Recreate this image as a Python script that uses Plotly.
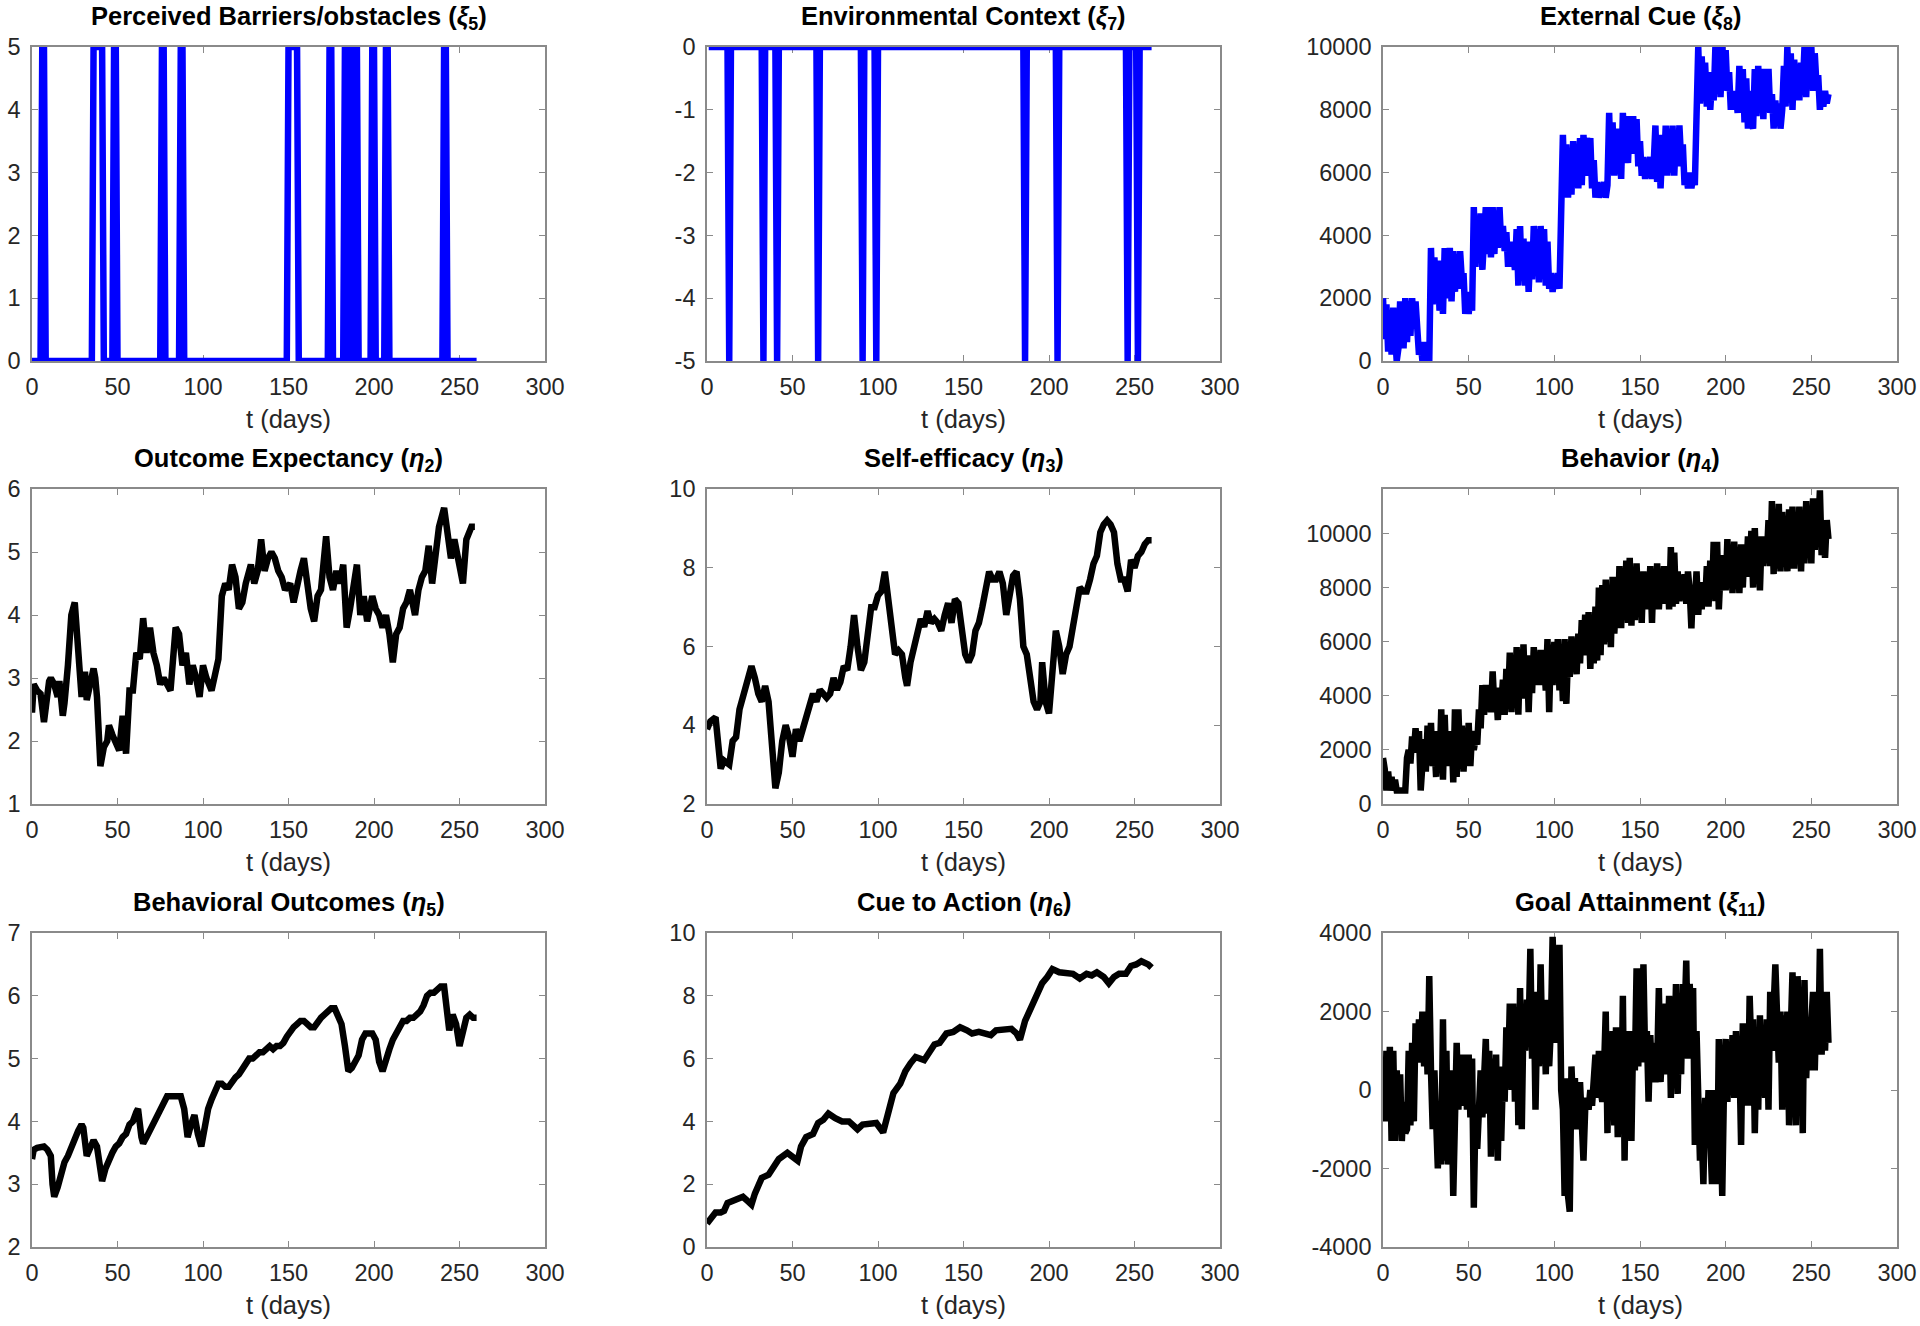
import plotly.graph_objects as go

W, H = 1920, 1326

# ---------------- data ----------------
days = list(range(261))

# Perceived Barriers/obstacles (xi5): days at level 5 (0 otherwise)
barrier_high_days = [6, 7, 36, 37, 38, 39, 40, 41, 48, 49, 76, 77, 87, 88,
                     150, 151, 152, 153, 154, 155, 174, 175,
                     183, 184, 186, 187, 189, 190, 199, 200, 207, 208, 241, 242]
# Environmental Context (xi7): days at level -5 (0 otherwise)
context_low_days = [13, 33, 41, 65, 91, 99, 186, 205, 246, 252]
context_days = list(range(1, 261))

# External Cue (xi8), daily
xi8 = [2000, 700, 1800, 300, 1600, 200, 1700, 1000, 0, 400,
       1900, 1500, 400, 2000, 600, 1900, 800, 2000, 1200, 1900,
       1100, 200, 600, 0, 600, 0, 100, 0,
       3600, 1800, 3300, 2200, 3200, 1600, 2600, 1500, 3600, 2000,
       2500, 3600, 1900, 3500, 2200, 3400, 2300, 3500, 2600, 2800,
       1500, 2200, 1500, 2100, 1600,
       4900, 3000, 4600, 3300, 4700, 2900, 3800, 4900, 3400, 4900,
       3300, 4900, 3400, 4800, 3600, 4900, 3700, 4300, 3500, 4100,
       3000, 3800, 3100, 3500, 2900, 4200, 2400, 4300, 2600, 3900,
       2400, 3800, 2200, 3500, 2600, 4300, 2700, 4200, 2500, 4300,
       3000, 4200, 2400, 3800, 2300, 2800, 2200, 2700, 2300, 2800, 2300,
       6000,
       7200, 5400, 6900, 5200, 6600, 5300, 7000, 5800, 6800, 5500,
       7100, 5600, 7200, 5900, 7100, 6300, 7100, 5500, 6400, 5200,
       5700, 5200, 5600, 5300, 5700, 5200, 5600,
       7900, 6000, 7600, 5900, 7400, 6100, 7000, 5800, 7900, 6500,
       7800, 6300, 7800, 6800, 7800, 6600, 7700, 6200, 7000, 5900,
       6500, 5800, 6400, 5900, 6500, 5800, 6300,
       7500, 5700, 7200, 5500, 6800, 6000, 7500, 5900, 7400, 6000,
       7500, 5900, 7300, 6200, 7500, 6400, 6900, 5600, 6000, 5500,
       6000, 5500, 5900, 5600,
       8800,
       10000, 8200, 9700, 8600, 9500, 8100, 9200, 8000, 8900, 8300,
       10000, 8700, 10000, 8400, 10000, 8800, 9900, 8600, 9200, 8000,
       8600, 8100, 8500, 7900, 9400, 8000, 9300, 7600, 9000, 7400,
       8600, 7600, 7400, 9300, 7800, 9400, 8000, 9300, 7700, 9300,
       8200, 9300, 7900, 8500, 7400, 8300, 7500, 8200, 7400, 8000,
       9400, 8100, 10000, 8400, 9800, 8000, 9600, 8600, 9200, 8300,
       9500, 8700, 10000, 8400, 10000, 8900, 10000, 8600, 9800, 8800,
       9100, 8000, 8600, 8100, 8600, 8200, 8500]

# Outcome Expectancy (eta2)
t_eta2 = [0, 1, 3, 5, 7, 8, 10, 11, 13, 15,
          16, 18, 19, 21, 23, 25, 26, 28, 29, 31,
          32, 34, 36, 37, 38, 40, 42, 44, 45, 47,
          49, 51, 53, 55, 57, 59, 61, 63, 65, 67,
          69, 71, 73, 75, 77, 79, 81, 84, 86, 88,
          90, 92, 94, 96, 98, 100, 102, 105, 107, 109,
          111, 113, 115, 117, 119, 121, 123, 125, 128, 130,
          132, 134, 136, 138, 140, 142, 144, 146, 148, 151,
          153, 155, 157, 159, 161, 163, 165, 167, 169, 172,
          174, 176, 178, 180, 182, 184, 186, 188, 190, 192,
          194, 196, 199, 201, 203, 205, 207, 209, 211, 213,
          215, 217, 219, 221, 224, 226, 228, 230, 232, 234,
          236, 238, 241, 243, 245, 247, 249, 252, 254, 257,
          259]
eta2 = [2.45, 2.9, 2.8, 2.75, 2.3, 2.6, 2.95, 3.0, 2.9, 2.7,
        2.95, 2.4, 2.6, 3.2, 4.0, 4.2, 3.8, 3.2, 2.7, 3.1,
        2.65, 2.9, 3.15, 3.0, 2.7, 1.6, 1.9, 2.0, 2.25, 2.1,
        2.0, 1.85, 2.4, 1.8, 2.8, 2.8, 3.4, 3.3, 3.95, 3.4,
        3.8, 3.4, 3.2, 2.9, 3.0, 2.9, 2.8, 3.8, 3.7, 3.2,
        3.4, 2.9, 3.2, 3.0, 2.7, 3.2, 3.0, 2.8, 3.1, 3.3,
        4.3, 4.5, 4.4, 4.8, 4.6, 4.1, 4.2, 4.5, 4.8, 4.5,
        4.7, 5.2, 4.7, 4.9, 5.0, 4.9, 4.7, 4.6, 4.4, 4.5,
        4.2, 4.5, 4.7, 4.9, 4.5, 4.1, 3.9, 4.3, 4.4, 5.25,
        4.6, 4.4, 4.7, 4.5, 4.8, 3.8, 4.1, 4.4, 4.8, 4.0,
        4.3, 3.9, 4.3, 4.1, 4.0, 3.8, 4.0, 3.7, 3.25, 3.7,
        3.8, 4.1, 4.2, 4.4, 4.0, 4.4, 4.6, 4.7, 5.1, 4.5,
        5.0, 5.4, 5.7, 5.3, 4.9, 5.2, 4.9, 4.5, 5.2, 5.4,
        5.4]

# Self-efficacy (eta3)
t_eta3 = [0, 2, 5, 7, 8, 10, 13, 15, 17, 19,
          22, 24, 26, 28, 30, 32, 34, 36, 38, 40,
          42, 44, 46, 48, 50, 52, 54, 56, 58, 60,
          62, 64, 66, 68, 70, 72, 74, 76, 78, 80,
          82, 84, 86, 88, 90, 92, 94, 96, 98, 100,
          102, 104, 106, 108, 110, 112, 114, 116, 117,
          119, 121, 123, 125, 127, 129, 131, 133, 135, 137,
          139, 141, 143, 145, 147, 149, 151, 153, 155, 157,
          159, 161, 163, 165, 167, 169, 171, 173, 175, 177,
          179, 181, 183, 185, 187, 189, 191, 193, 195, 196,
          198, 200, 202, 204, 206, 208, 210, 212, 214, 216,
          218, 220, 222, 224, 226, 228, 230, 232, 234, 236,
          238, 240, 242, 244, 246, 248, 250, 252, 254, 256,
          258, 260]
eta3 = [3.9, 4.1, 4.2, 3.3, 2.9, 3.1, 3.0, 3.6, 3.7, 4.4,
        4.9, 5.1, 5.5, 5.2, 4.8, 4.6, 5.0, 4.6, 3.7, 2.4,
        2.8, 3.6, 4.0, 3.7, 3.2, 3.9, 3.6, 3.9, 4.1, 4.5,
        4.8, 4.6, 4.9, 4.8, 4.7, 4.8, 5.2, 4.9, 5.1, 5.5,
        5.4, 6.0, 6.8, 6.0, 5.4, 5.6, 6.4, 7.0, 7.0, 7.3,
        7.4, 7.9, 7.2, 6.6, 5.8, 5.9, 5.8, 5.2, 5.0,
        5.6, 6.0, 6.3, 6.7, 6.5, 6.9, 6.6, 6.7, 6.6, 6.4,
        6.8, 7.1, 6.6, 7.2, 7.1, 6.3, 5.8, 5.6, 5.8, 6.4,
        6.6, 7.0, 7.4, 7.9, 7.7, 7.7, 7.9, 7.6, 6.8, 7.3,
        7.8, 7.9, 7.2, 6.0, 5.8, 5.2, 4.6, 4.4, 4.6, 5.6,
        4.6, 4.3, 5.3, 6.4, 6.0, 5.3, 5.8, 6.0, 6.5, 7.0,
        7.5, 7.4, 7.4, 7.7, 8.1, 8.3, 8.9, 9.1, 9.2, 9.1,
        8.9, 8.1, 7.7, 7.7, 7.4, 8.2, 8.0, 8.3, 8.4, 8.6,
        8.7, 8.7]

# Behavior (eta4), daily
eta4 = [1700, 1300, 500, 1200, 500, 1000, 500, 900, 500, 500,
        500, 500, 500, 500, 1700, 2000, 1500, 2500, 1900, 2800,
        2000, 2700, 500, 1200, 2400, 1200, 2900, 1600, 3000, 1400,
        2200, 1000, 2700, 1300, 3500, 900, 3300, 1400, 2600, 1500,
        2700, 800, 3500, 1000, 3500, 1600, 2900, 1200, 2500, 1600,
        3000, 1400, 2700, 2000, 2400, 2200, 3500, 2800, 4400, 3300,
        4400, 3600, 4000, 3400, 4900, 3600, 4300, 3100, 4200, 3600,
        4600, 3300, 5000, 3800, 5600, 3400, 5300, 3900, 5800, 3300,
        5700, 4400, 5900, 3900, 5500, 3400, 5200, 4100, 5800, 4600,
        5500, 4400, 5700, 4700, 5300, 4200, 6100, 3400, 5900, 4400,
        6000, 4600, 6100, 4200, 5500, 3800, 6100, 3700, 5500, 4700,
        6200, 5000, 6000, 4800, 6300, 5200, 6800, 5500, 7000, 5600,
        7100, 5000, 6600, 5200, 7300, 5300, 8000, 5500, 8100, 5900,
        8300, 6000, 7700, 5800, 8400, 6300, 7600, 6600, 8800, 6500,
        8700, 7100, 9000, 6700, 9100, 6600, 8500, 6800, 8900, 7100,
        8300, 6700, 8600, 7200, 8200, 7300, 8800, 6700, 8700, 7300,
        8900, 7200, 8300, 7600, 8800, 7400, 8600, 7200, 9500, 7300,
        9300, 7400, 8600, 7500, 8300, 7700, 8500, 7400, 8600, 7900,
        6500, 8100, 7500, 8600, 7000, 8200, 7200, 8000, 7400, 8800,
        7300, 9000, 7600, 9700, 7500, 9700, 7200, 8600, 7900, 9200,
        7900, 9800, 8300, 9300, 7800, 9700, 8100, 9300, 7800, 9600,
        8000, 9500, 8400, 9900, 8600, 10100, 8000, 10200, 8500, 9800,
        7900, 9900, 8800, 9700, 9100, 10500, 8800, 11200, 8500, 10700,
        8700, 11100, 8600, 10800, 9000, 10300, 8600, 10900, 8700, 11000,
        8700, 10700, 9000, 11000, 8600, 10800, 8900, 11200, 9300, 11000,
        8900, 11300, 9400, 11100, 10100, 11600, 9200, 10300, 9100, 10500,
        9800]

# Behavioral Outcomes (eta5)
t_eta5 = [0, 1, 3, 5, 7, 9, 11, 12, 13, 15,
          17, 19, 21, 23, 25, 27, 29, 30, 32, 34,
          36, 38, 40, 41, 43, 45, 47, 49, 51, 53,
          55, 57, 59, 61, 62, 64, 65, 67, 69, 71,
          73, 75, 77, 79, 81, 83, 85, 87, 89, 91,
          93, 95, 97, 99, 101, 103, 105, 107, 109, 111,
          113, 115, 117, 119, 121, 123, 125, 127, 129, 131,
          133, 135, 137, 139, 141, 143, 145, 147, 149, 151,
          153, 155, 157, 159, 161, 163, 165, 167, 169, 171,
          173, 175, 177, 179, 181, 183, 185, 187, 189, 191,
          193, 195, 197, 199, 201, 203, 205, 207, 209, 211,
          213, 215, 217, 219, 221, 223, 225, 227, 229, 231,
          233, 235, 237, 239, 241, 242, 243, 244, 246, 248,
          250, 252, 254, 256, 258, 260]
eta5 = [3.4, 3.55, 3.58, 3.6, 3.6, 3.55, 3.45, 3.0, 2.8, 2.95,
        3.2, 3.35, 3.45, 3.6, 3.75, 3.85, 3.95, 3.9, 3.45, 3.6,
        3.7, 3.6, 3.1, 3.05, 3.25, 3.4, 3.5, 3.6, 3.65, 3.75,
        3.8, 3.95, 4.0, 4.15, 4.2, 3.75, 3.65, 3.75, 3.85, 4.0,
        4.05, 4.2, 4.3, 4.4, 4.4, 4.4, 4.4, 4.4, 4.2, 3.75,
        3.95, 4.1, 3.8, 3.6, 3.9, 4.2, 4.35, 4.45, 4.6, 4.6,
        4.55, 4.55, 4.65, 4.7, 4.75, 4.85, 4.95, 5.0, 5.0, 5.05,
        5.1, 5.1, 5.15, 5.2, 5.15, 5.2, 5.2, 5.25, 5.35, 5.45,
        5.5, 5.55, 5.6, 5.6, 5.55, 5.5, 5.5, 5.6, 5.65, 5.7,
        5.75, 5.8, 5.8, 5.7, 5.55, 5.2, 4.8, 4.85, 4.95, 5.05,
        5.3, 5.4, 5.4, 5.4, 5.3, 4.95, 4.8, 5.0, 5.15, 5.3,
        5.4, 5.55, 5.6, 5.6, 5.65, 5.65, 5.7, 5.75, 5.85, 6.0,
        6.05, 6.05, 6.1, 6.15, 6.15, 5.9, 5.5, 5.45, 5.7, 5.55,
        5.2, 5.4, 5.65, 5.7, 5.65, 5.65]

# Cue to Action (eta6)
t_eta6 = [0, 2, 5, 8, 10, 12, 15, 18, 21, 24,
          26, 28, 30, 32, 36, 39, 42, 47, 50, 53,
          55, 58, 62, 65, 68, 71, 75, 79, 83, 88,
          91, 95, 99, 103, 106, 109, 113, 116, 119, 122,
          127, 130, 133, 136, 140, 144, 148, 152, 155, 159,
          162, 166, 169, 173, 178, 181, 183, 186, 190, 193,
          196, 199, 202, 206, 210, 214, 218, 222, 225, 228,
          232, 235, 238, 241, 245, 248, 251, 254, 258, 260]
eta6 = [0.75, 0.9, 1.1, 1.1, 1.15, 1.4, 1.45, 1.55, 1.6, 1.45,
        1.35, 1.7, 2.0, 2.2, 2.3, 2.6, 2.8, 3.0, 2.9, 2.75,
        3.2, 3.5, 3.6, 3.95, 4.05, 4.25, 4.1, 4.0, 4.0, 3.75,
        3.9, 3.95, 3.95, 3.65, 4.3, 4.9, 5.2, 5.6, 5.85, 6.05,
        5.95, 6.25, 6.45, 6.5, 6.8, 6.85, 7.0, 6.9, 6.8, 6.85,
        6.8, 6.75, 6.9, 6.9, 6.95, 6.8, 6.6, 7.2, 7.7, 7.95,
        8.4, 8.6, 8.85, 8.75, 8.7, 8.7, 8.55, 8.7, 8.65, 8.75,
        8.6, 8.4, 8.6, 8.7, 8.7, 8.95, 9.0, 9.1, 9.0, 8.9]

# Goal Attainment (xi11), daily
xi11 = [800, -800, 1000, -700, 1100, -1300, 1000, -1300, 500, -500,
        400, -1300, -300, -1100, -1000, 1000, -900, 1200, -800, 1700,
        900, 1800, 700, 2000, 600, 1900, 400, 2900, 500, -1000,
        500, -500, -2000, -600, -1900, 1800, -1800, 1000, -1900, 500,
        -300, -2700, -400, 1200, -500, 900, -400, 300, 900, -500,
        900, -700, 800, -3000, -500, -1500, -400, 500, -700, 300,
        1300, -600, 1000, -1700, 800, -1100, 900, -1800, 600, -1300,
        400, -300, 1600, 400, 2200, 0, 2200, -300, 2100, -900,
        2600, -1000, 1900, 1000, 2300, 1500, 3600, 800, 2500, -500,
        1800, 600, 3200, 1000, 2000, 400, 2300, 600, 1600, 3900,
        2600, 1200, 2700, 3700, 0, -500, -2700, 300, -2700, -3100,
        600, -500, 300, -1000, -200, 200, -800, -1800, -500, -200,
        -500, 0, -400, 300, 900, -200, 1000, 0, -300, 500,
        2000, -1100, 1300, -500, 1500, -900, 1600, -1200, 800, -900,
        2400, -1800, 1300, 0, 1500, -1300, 1400, 500, 3100, 600,
        3100, 700, 3200, 800, 1500, -300, 1400, 300, 1200, 200,
        600, 2600, 200, 1200, 400, 2200, 1000, 2400, -200, 1600,
        800, 2700, -100, 1900, 400, 2700, 1800, 3300, 800, 2700,
        1800, 2600, -1400, 1500, -1000, -1800, -1100, -2400, -200, -1300,
        0, -1000, -2400, 0, -1300, -2400, 1300, -1500, -2700, 0,
        1300, -300, 900, 200, 1400, -200, 1500, 100, 900, -1400,
        1700, 0, 1400, -400, 2400, 1000, 1800, -1100, 1000, -500,
        1900, 0, 1000, -200, 1800, -500, 2500, 1000, 2800, 3200,
        1900, 700, 2000, -500, 1900, 600, 2000, -900, 1500, 3000,
        1000, -900, 2900, 1000, 2000, -1100, 2800, 300, 1700, 500,
        1700, 2500, 500, 2200, 900, 3600, 900, 2300, 1000, 2500,
        1200]

x_ticks = [0, 50, 100, 150, 200, 250, 300]

# build the binary series from the day lists
xi5 = [5 if d in barrier_high_days else 0 for d in days]
xi7 = [-5 if d in context_low_days else 0 for d in context_days]

BLUE = "#0000ff"
BLACK = "#000000"

panels = [
    dict(title="Perceived Barriers/obstacles (<i>ξ</i><sub>5</sub>)", x=days, y=xi5, color=BLUE,
         yr=[0, 5], yt=[0, 1, 2, 3, 4, 5]),
    dict(title="Environmental Context (<i>ξ</i><sub>7</sub>)", x=context_days, y=xi7, color=BLUE,
         yr=[-5, 0], yt=[-5, -4, -3, -2, -1, 0]),
    dict(title="External Cue (<i>ξ</i><sub>8</sub>)", x=days[:len(xi8)], y=xi8, color=BLUE,
         yr=[0, 10000], yt=[0, 2000, 4000, 6000, 8000, 10000]),
    dict(title="Outcome Expectancy (<i>η</i><sub>2</sub>)", x=t_eta2, y=eta2, color=BLACK,
         yr=[1, 6], yt=[1, 2, 3, 4, 5, 6]),
    dict(title="Self-efficacy (<i>η</i><sub>3</sub>)", x=t_eta3, y=eta3, color=BLACK,
         yr=[2, 10], yt=[2, 4, 6, 8, 10]),
    dict(title="Behavior (<i>η</i><sub>4</sub>)", x=days[:len(eta4)], y=eta4, color=BLACK,
         yr=[0, 11650], yt=[0, 2000, 4000, 6000, 8000, 10000]),
    dict(title="Behavioral Outcomes (<i>η</i><sub>5</sub>)", x=t_eta5, y=eta5, color=BLACK,
         yr=[2, 7], yt=[2, 3, 4, 5, 6, 7]),
    dict(title="Cue to Action (<i>η</i><sub>6</sub>)", x=t_eta6, y=eta6, color=BLACK,
         yr=[0, 10], yt=[0, 2, 4, 6, 8, 10]),
    dict(title="Goal Attainment (<i>ξ</i><sub>11</sub>)", x=days[:len(xi11)], y=xi11, color=BLACK,
         yr=[-4000, 4000], yt=[-4000, -2000, 0, 2000, 4000]),
]

# ---------------- layout (pixel boxes of each axes) ----------------
COLS = [(32, 545), (707, 1220), (1383, 1897)]
ROWS = [(47, 361), (489, 804), (933, 1247)]

FONT = "Liberation Sans, Arial, Helvetica, sans-serif"
TXT = "#262626"
AXC = "#8a8a8a"
TICK_SIZE = 23.5
LABEL_SIZE = 25.5
TITLE_SIZE = 25.5
LW = 6.5

fig = go.Figure()
annotations = []
for i, p in enumerate(panels):
    r, c = divmod(i, 3)
    sfx = "" if i == 0 else str(i + 1)
    n = min(len(p["x"]), len(p["y"]))
    fig.add_trace(go.Scatter(
        x=p["x"][:n], y=p["y"][:n], mode="lines",
        line=dict(color=p["color"], width=LW),
        xaxis="x" + sfx, yaxis="y" + sfx,
        showlegend=False, hoverinfo="skip", cliponaxis=False))
    x0, x1 = COLS[c]
    y0, y1 = ROWS[r]
    common = dict(showline=True, linecolor=AXC, linewidth=1.6, mirror="allticks",
                  ticks="inside", ticklen=6, tickwidth=1.4, tickcolor=AXC,
                  showgrid=False, zeroline=False, layer="below traces",
                  automargin=False,
                  tickfont=dict(family=FONT, size=TICK_SIZE, color=TXT))
    fig.layout["xaxis" + sfx] = dict(
        domain=[x0 / W, x1 / W], anchor="y" + sfx, range=[0, 300],
        tickvals=x_ticks, ticktext=[str(v) for v in x_ticks],
        ticklabelstandoff=4, **common)
    fig.layout["yaxis" + sfx] = dict(
        domain=[1 - y1 / H, 1 - y0 / H], anchor="x" + sfx, range=p["yr"],
        tickvals=p["yt"], ticktext=[str(v) for v in p["yt"]],
        ticklabelstandoff=5, **common)
    xc = (x0 + x1) / 2 / W
    annotations.append(dict(
        text="<b>" + p["title"] + "</b>", x=xc, y=1 - (y0 - 29) / H,
        xref="paper", yref="paper", xanchor="center", yanchor="middle",
        showarrow=False, font=dict(family=FONT, size=TITLE_SIZE, color="#000000")))
    annotations.append(dict(
        text="t (days)", x=xc, y=1 - (y1 + 58) / H,
        xref="paper", yref="paper", xanchor="center", yanchor="middle",
        showarrow=False, font=dict(family=FONT, size=LABEL_SIZE, color=TXT)))

fig.update_layout(
    template="none",
    width=W, height=H, autosize=False,
    margin=dict(l=0, r=0, t=0, b=0, pad=0),
    paper_bgcolor="white", plot_bgcolor="white",
    annotations=annotations,
    font=dict(family=FONT, color=TXT),
)

fig.write_html("out.html", config={"displayModeBar": False},
               post_script="document.body.style.margin='0';document.body.style.overflow='hidden';")
